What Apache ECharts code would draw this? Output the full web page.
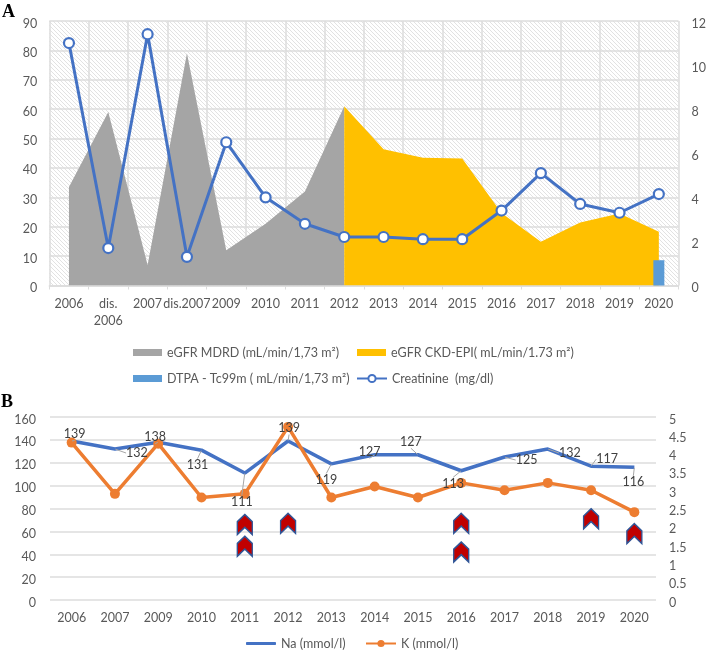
<!DOCTYPE html>
<html><head><meta charset="utf-8">
<style>html,body{margin:0;padding:0;background:#fff}#c{width:709px;height:653px}</style>
<script src="https://cdn.jsdelivr.net/npm/echarts@6/dist/echarts.min.js"></script>
</head><body><div id="c"></div>
<script>
const categoriesA = ['2006','dis.\n2006','2007','dis.2007','2009','2010','2011','2012','2013','2014','2015','2016','2017','2018','2019','2020'];
const mdrd = [33.5,59,7,79,12,21,32,61,null,null,null,null,null,null,null,null];
const ckdEpi = [null,null,null,null,null,null,null,61,46.4,43.5,43.2,24.7,14.9,21.4,24.5,18.3];
const dtpa = [null,null,null,null,null,null,null,null,null,null,null,null,null,null,null,8.6];
const creatinine = [11.0,1.7,11.4,1.3,6.5,4.0,2.8,2.2,2.2,2.1,2.1,3.4,5.1,3.7,3.3,4.15];

const categoriesB = ['2006','2007','2009','2010','2011','2012','2013','2014','2015','2016','2017','2018','2019','2020'];
const sodium = [139,132,138,131,111,139,119,127,127,113,125,132,117,116];
const potassium = [4.3,2.9,4.27,2.8,2.9,4.73,2.8,3.1,2.8,3.2,3.0,3.2,3.0,2.4];
// label offsets from each Na point, in px
const naLabelOffsets = [[3,0],[22,11],[-3,2],[-4,22],[-3,36],[1,-6],[-5,23],[-5,4],[-7,-6],[-8,20],[22,10],[22,11],[16,0],[-1,22]];
const chevrons = [['2011',66],['2011',47],['2012',67],['2016',67],['2016',42],['2019',71],['2020',58]];

const names = {mdrd:'eGFR MDRD (mL/min/1,73 m²)', ckd:'eGFR CKD-EPI( mL/min/1.73 m²)', dtpa:'DTPA - Tc99m ( mL/min/1,73 m²)', cr:'Creatinine  (mg/dl)', na:'Na (mmol/l)', k:'K (mmol/l)'};

const FONT = 'Lato';
const TXT = '#595959';
const GRID = '#dcdcdc';

// diagonal hatch for the plot background of panel A
const hatch = document.createElement('canvas');
hatch.width = 4; hatch.height = 4;
(function () {
  const g = hatch.getContext('2d');
  g.fillStyle = '#fff'; g.fillRect(0, 0, 4, 4);
  g.strokeStyle = '#e2e2e2'; g.lineWidth = 1;
  g.beginPath();
  g.moveTo(-1, -1); g.lineTo(5, 5);
  g.moveTo(-1, 3); g.lineTo(1, 5);
  g.moveTo(3, -1); g.lineTo(5, 1);
  g.stroke();
})();

const legendBase = {textStyle:{color:TXT,fontFamily:FONT,fontSize:12.5},itemGap:0,padding:0};
function legend(name, left, top, icon, w, h) {
  const d = icon ? {name, icon} : {name};
  return Object.assign({}, legendBase, {left, top, data:[d], itemWidth:w, itemHeight:h});
}
const chevronPath = 'path://M0,-10 L10,-2 L10,12 L0,4 L-10,12 L-10,-2 Z';
const axisText = {color:TXT,fontFamily:FONT,fontSize:12.5};
const yText = Object.assign({verticalAlign:'top',lineHeight:5},axisText);

const chart = echarts.init(document.getElementById('c'), null, {renderer:'canvas'});
chart.setOption({
  animation:false,
  backgroundColor:'#fff',
  graphic:[
    {type:'text',left:2,top:3,style:{text:'A',font:'bold 18px "Liberation Serif"',fill:'#000'}},
    {type:'text',left:1,top:393,style:{text:'B',font:'bold 18px "Liberation Serif"',fill:'#000'}}
  ],
  grid:[
    {left:49.3,top:21,width:632,height:264.5,show:true,borderWidth:0,backgroundColor:{image:hatch,repeat:'repeat'}},
    {left:50,top:417,width:606,height:183}
  ],
  legend:[
    legend(names.mdrd,133,346,'rect',29,7),
    legend(names.ckd,357,346,'rect',29,7),
    legend(names.dtpa,133,372,'rect',29,7),
    legend(names.cr,356,372,null,30,9),
    legend(names.na,246,637,'roundRect',30,3),
    legend(names.k,365,637,null,30,9)
  ],
  xAxis:[
    {type:'category',gridIndex:0,data:categoriesA,boundaryGap:true,
     axisLine:{lineStyle:{color:GRID,width:1.5}},axisTick:{show:true,length:4,lineStyle:{color:GRID}},
     splitLine:{show:true,lineStyle:{color:GRID,width:1.5}},
     axisLabel:Object.assign({interval:0,margin:10,lineHeight:17,hideOverlap:false},axisText)},
    {type:'category',gridIndex:1,data:categoriesB,boundaryGap:true,
     axisLine:{show:false},axisTick:{show:false},splitLine:{show:false},
     axisLabel:Object.assign({interval:0,margin:11},axisText)}
  ],
  yAxis:[
    {type:'value',gridIndex:0,min:0,max:90,interval:10,
     axisLine:{show:false},axisTick:{show:false},
     splitLine:{show:true,lineStyle:{color:GRID,width:1.5}},
     axisLabel:Object.assign({margin:12},yText)},
    {type:'value',gridIndex:0,min:0,max:12,interval:2,position:'right',
     axisLine:{show:false},axisTick:{show:false},splitLine:{show:false},
     axisLabel:Object.assign({margin:13},yText)},
    {type:'value',gridIndex:1,min:0,max:160,interval:20,
     axisLine:{show:false},axisTick:{show:false},
     splitLine:{show:true,lineStyle:{color:GRID,width:1.5}},
     axisLabel:Object.assign({margin:14},yText)},
    {type:'value',gridIndex:1,min:0,max:5,interval:0.5,position:'right',
     axisLine:{show:false},axisTick:{show:false},splitLine:{show:false},
     axisLabel:Object.assign({margin:13},yText)}
  ],
  series:[
    {name:names.mdrd,type:'line',xAxisIndex:0,yAxisIndex:0,data:mdrd,symbol:'none',connectNulls:false,
     lineStyle:{width:0},areaStyle:{color:'#a5a5a5',opacity:1},itemStyle:{color:'#a5a5a5'},z:2},
    {name:names.ckd,type:'line',xAxisIndex:0,yAxisIndex:0,data:ckdEpi,symbol:'none',connectNulls:false,
     lineStyle:{width:0},areaStyle:{color:'#ffc000',opacity:1},itemStyle:{color:'#ffc000'},z:3},
    {name:names.dtpa,type:'bar',xAxisIndex:0,yAxisIndex:0,data:dtpa,barWidth:11,
     itemStyle:{color:'#5b9bd5'},z:4},
    {name:names.cr,type:'line',xAxisIndex:0,yAxisIndex:1,data:creatinine,symbol:'circle',symbolSize:10,showAllSymbol:true,
     lineStyle:{color:'#4472c4',width:3},itemStyle:{color:'#fff',borderColor:'#4472c4',borderWidth:2.2},z:5},
    {name:names.na,type:'line',xAxisIndex:1,yAxisIndex:2,data:sodium,symbol:'none',
     lineStyle:{color:'#4472c4',width:3.5},itemStyle:{color:'#4472c4'},z:3},
    {name:names.k,type:'line',xAxisIndex:1,yAxisIndex:3,data:potassium,symbol:'circle',symbolSize:10,showAllSymbol:true,
     lineStyle:{color:'#ed7d31',width:3.5},itemStyle:{color:'#ed7d31'},z:4},
    {name:'Na labels',type:'line',xAxisIndex:1,yAxisIndex:2,data:sodium,symbol:'circle',symbolSize:1,showAllSymbol:true,
     lineStyle:{width:0,color:'rgba(0,0,0,0)'},itemStyle:{color:'rgba(0,0,0,0)',borderWidth:0},z:6,
     label:{show:true,position:'top',distance:0,color:'#404040',fontFamily:FONT,fontSize:12.5},
     labelLine:{show:true,lineStyle:{color:'#a6a6a6',width:1}},
     labelLayout:function(p){const o=naLabelOffsets[p.dataIndex];return {dx:o[0],dy:o[1]};}},
    {name:'Chevron',type:'scatter',xAxisIndex:1,yAxisIndex:2,data:chevrons,symbol:chevronPath,symbolSize:[15,20],
     itemStyle:{color:'#c00000',borderColor:'#2f5597',borderWidth:1.5,opacity:1},z:5}
  ]
});
</script></body></html>
